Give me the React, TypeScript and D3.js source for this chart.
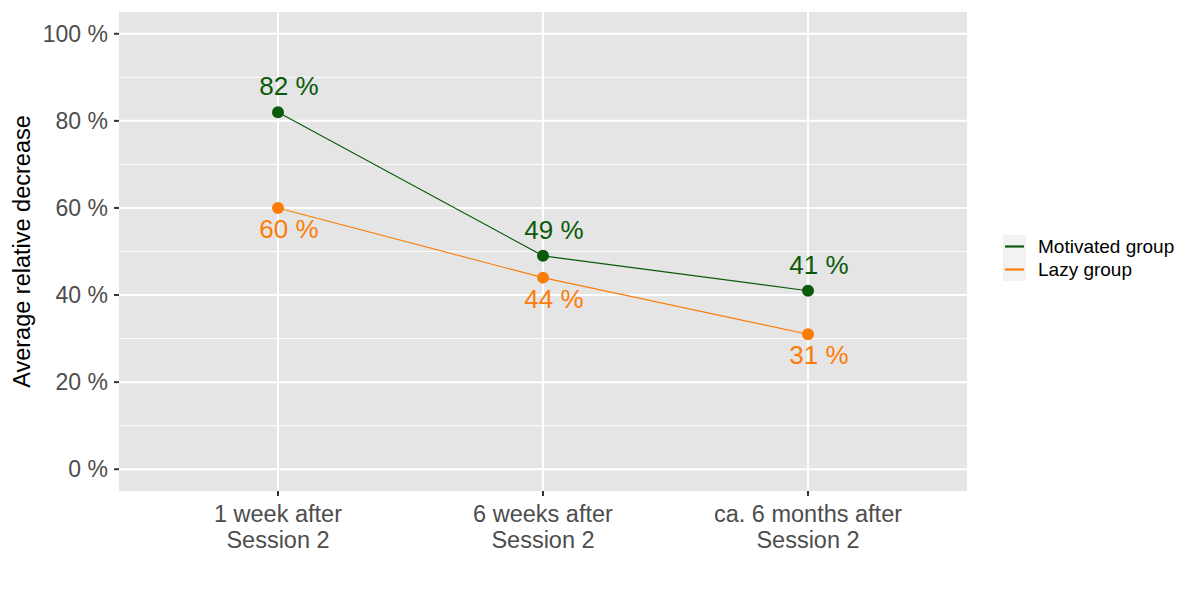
import React, { useEffect, useRef } from "react";
import * as d3 from "d3";

// categories along the x axis (two-line labels)
const timepoints = ["1 week after\nSession 2", "6 weeks after\nSession 2", "ca. 6 months after\nSession 2"];
const motivated = [82, 49, 41];
const lazy = [60, 44, 31];
const yTicks = [0, 20, 40, 60, 80, 100];
const yMinor = [10, 30, 50, 70, 90];
const groupNames = ["Motivated group", "Lazy group"];
const groupColors = ["#0b5a0b", "#fb7d07"];

const App: React.FC = () => {
  const svgRef = useRef<SVGSVGElement>(null);
  const width = 1200;
  const height = 600;

  useEffect(() => {
    if (!svgRef.current) return;
    const svg = d3.select(svgRef.current);
    svg.selectAll("*").remove();

    const panel = { left: 119, right: 967, top: 12, bottom: 491 };
    const font = "'Liberation Sans', Arial, sans-serif";

    const y = d3.scaleLinear().domain([-5, 105]).range([panel.bottom, panel.top]);
    const x = d3
      .scalePoint<string>()
      .domain(timepoints)
      .range([panel.left, panel.right])
      .padding(0.6);

    // panel background
    svg
      .append("rect")
      .attr("x", panel.left)
      .attr("y", panel.top)
      .attr("width", panel.right - panel.left)
      .attr("height", panel.bottom - panel.top)
      .attr("fill", "#e5e5e5");

    // grid lines
    svg
      .selectAll(".minor")
      .data(yMinor)
      .enter()
      .append("line")
      .attr("x1", panel.left)
      .attr("x2", panel.right)
      .attr("y1", (d) => y(d))
      .attr("y2", (d) => y(d))
      .attr("stroke", "white")
      .attr("stroke-width", 1);

    svg
      .selectAll(".major")
      .data(yTicks)
      .enter()
      .append("line")
      .attr("x1", panel.left)
      .attr("x2", panel.right)
      .attr("y1", (d) => y(d))
      .attr("y2", (d) => y(d))
      .attr("stroke", "white")
      .attr("stroke-width", 2);

    svg
      .selectAll(".vgrid")
      .data(timepoints)
      .enter()
      .append("line")
      .attr("x1", (d) => x(d)!)
      .attr("x2", (d) => x(d)!)
      .attr("y1", panel.top)
      .attr("y2", panel.bottom)
      .attr("stroke", "white")
      .attr("stroke-width", 2);

    // y axis ticks + labels
    const yAxis = svg.append("g");
    yTicks.forEach((t) => {
      yAxis
        .append("line")
        .attr("x1", panel.left - 5)
        .attr("x2", panel.left)
        .attr("y1", y(t))
        .attr("y2", y(t))
        .attr("stroke", "#333")
        .attr("stroke-width", 2);
      yAxis
        .append("text")
        .attr("x", panel.left - 11)
        .attr("y", y(t))
        .attr("dy", "0.35em")
        .attr("text-anchor", "end")
        .style("font-family", font)
        .style("font-size", "23px")
        .style("fill", "#4d4d4d")
        .text(`${t} %`);
    });

    // x axis ticks + labels
    timepoints.forEach((c) => {
      svg
        .append("line")
        .attr("x1", x(c)!)
        .attr("x2", x(c)!)
        .attr("y1", panel.bottom)
        .attr("y2", panel.bottom + 5)
        .attr("stroke", "#333")
        .attr("stroke-width", 2);
      const lines = c.split("\n");
      lines.forEach((ln, i) => {
        svg
          .append("text")
          .attr("x", x(c)!)
          .attr("y", 522 + i * 26)
          .attr("text-anchor", "middle")
          .style("font-family", font)
          .style("font-size", "23.5px")
          .style("fill", "#4d4d4d")
          .text(ln);
      });
    });

    // y axis title
    svg
      .append("text")
      .attr("transform", `translate(30, ${(panel.top + panel.bottom) / 2}) rotate(-90)`)
      .attr("text-anchor", "middle")
      .style("font-family", font)
      .style("font-size", "23.5px")
      .style("fill", "black")
      .text("Average relative decrease");

    // series
    const series = [motivated, lazy];
    const line = d3
      .line<number>()
      .x((_, i) => x(timepoints[i])!)
      .y((d) => y(d));

    series.forEach((vals, s) => {
      svg
        .append("path")
        .attr("d", line(vals))
        .attr("fill", "none")
        .attr("stroke", groupColors[s])
        .attr("stroke-width", 1.1);
    });

    const nudge = 11; // labels sit slightly right of the points
    series.forEach((vals, s) => {
      vals.forEach((v, i) => {
        svg
          .append("circle")
          .attr("cx", x(timepoints[i])!)
          .attr("cy", y(v))
          .attr("r", 6)
          .attr("fill", groupColors[s]);
        svg
          .append("text")
          .attr("x", x(timepoints[i])! + nudge)
          .attr("y", s === 0 ? y(v) - 17 : y(v) + 30)
          .attr("text-anchor", "middle")
          .style("font-family", font)
          .style("font-size", "26px")
          .style("fill", groupColors[s])
          .text(`${v} %`);
      });
    });

    // legend
    const legend = svg.append("g").attr("transform", "translate(1003, 235)");
    groupNames.forEach((name, i) => {
      legend
        .append("rect")
        .attr("x", 0)
        .attr("y", i * 23)
        .attr("width", 23)
        .attr("height", 23)
        .attr("fill", "#f2f2f2");
      legend
        .append("line")
        .attr("x1", 2)
        .attr("x2", 21)
        .attr("y1", i * 23 + 11.5)
        .attr("y2", i * 23 + 11.5)
        .attr("stroke", groupColors[i])
        .attr("stroke-width", 2.2);
      legend
        .append("text")
        .attr("x", 35)
        .attr("y", i * 23 + 11.5)
        .attr("dy", "0.35em")
        .style("font-family", font)
        .style("font-size", "19px")
        .style("fill", "black")
        .text(name);
    });
  }, []);

  return (
    <svg
      ref={svgRef}
      width={width}
      height={height}
      viewBox={`0 0 ${width} ${height}`}
      style={{ display: "block", position: "absolute", left: 0, top: 0, background: "white" }}
    />
  );
};

export default App;
